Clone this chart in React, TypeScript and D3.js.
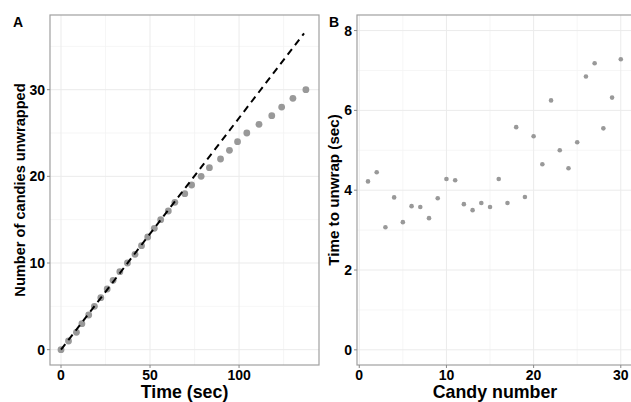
import React from "react";
import * as d3 from "d3";

// Panel B: time to unwrap each candy (sec)
const candyNumber = [1,2,3,4,5,6,7,8,9,10,11,12,13,14,15,16,17,18,19,20,21,22,23,24,25,26,27,28,29,30];
const unwrapTime = [4.22,4.45,3.07,3.82,3.2,3.6,3.58,3.3,3.8,4.28,4.25,3.65,3.5,3.68,3.58,4.28,3.68,5.58,3.83,5.35,4.65,6.25,5.0,4.55,5.2,6.85,7.18,5.55,6.32,7.28];

// Panel A: cumulative time (sec) vs number of candies unwrapped
const candiesUnwrapped = [0,1,2,3,4,5,6,7,8,9,10,11,12,13,14,15,16,17,18,19,20,21,22,23,24,25,26,27,28,29,30];
const cumulativeTime = [0,4.22,8.67,11.74,15.56,18.76,22.36,25.94,29.24,33.04,37.32,41.57,45.22,48.72,52.40,55.98,60.26,63.94,69.52,73.35,78.70,83.35,89.60,94.60,99.15,104.35,111.20,118.38,123.93,130.25,137.53];

// Dashed reference line (constant initial rate)
const refLineTime = [0, 136.5];
const refLineCandies = [0, 36.5];

const aXTicks = [0, 50, 100];
const aXMinor = [25, 75, 125];
const aYTicks = [0, 10, 20, 30];
const aYMinor = [5, 15, 25, 35];
const bXTicks = [0, 10, 20, 30];
const bXMinor = [5, 15, 25];
const bYTicks = [0, 2, 4, 6, 8];
const bYMinor = [1, 3, 5, 7];

const aXDomain = [-6.18, 144.9];
const aYDomain = [-1.77, 38.62];
const bXDomain = [-0.26, 31.4];
const bYDomain = [-0.38, 8.39];

const FONT = "'Liberation Sans', Arial, Helvetica, sans-serif";
const GRID_MAJOR = "#ebebeb";
const GRID_MINOR = "#f4f4f4";
const BORDER = "#a0a0a0";
const POINT = "#999999";

type PanelProps = {
  left: number; right: number; top: number; bottom: number;
  xDomain: number[]; yDomain: number[];
  xTicks: number[]; xMinor: number[]; yTicks: number[]; yMinor: number[];
  xTitle: string; yTitle: string; label: string; labelX: number; yTitleX: number;
  yTitleSize: number;
  children: (x: d3.ScaleLinear<number, number>, y: d3.ScaleLinear<number, number>) => React.ReactNode;
};

function Panel(p: PanelProps) {
  const x = d3.scaleLinear().domain(p.xDomain).range([p.left, p.right]);
  const y = d3.scaleLinear().domain(p.yDomain).range([p.bottom, p.top]);
  const clipId = "clip-" + p.label;
  return (
    <g>
      <defs>
        <clipPath id={clipId}>
          <rect x={p.left} y={p.top} width={p.right - p.left} height={p.bottom - p.top} />
        </clipPath>
      </defs>
      <rect x={p.left} y={p.top} width={p.right - p.left} height={p.bottom - p.top} fill="white" />
      {p.xMinor.map((v) => (
        <line key={"xm" + v} x1={x(v)} x2={x(v)} y1={p.top} y2={p.bottom} stroke={GRID_MINOR} strokeWidth={0.8} />
      ))}
      {p.yMinor.map((v) => (
        <line key={"ym" + v} x1={p.left} x2={p.right} y1={y(v)} y2={y(v)} stroke={GRID_MINOR} strokeWidth={0.8} />
      ))}
      {p.xTicks.map((v) => (
        <line key={"xg" + v} x1={x(v)} x2={x(v)} y1={p.top} y2={p.bottom} stroke={GRID_MAJOR} strokeWidth={1} />
      ))}
      {p.yTicks.map((v) => (
        <line key={"yg" + v} x1={p.left} x2={p.right} y1={y(v)} y2={y(v)} stroke={GRID_MAJOR} strokeWidth={1} />
      ))}
      <g clipPath={`url(#${clipId})`}>{p.children(x, y)}</g>
      <rect x={p.left} y={p.top} width={p.right - p.left} height={p.bottom - p.top} fill="none" stroke={BORDER} strokeWidth={1.2} />
      {p.xTicks.map((v) => (
        <g key={"xt" + v}>
          <line x1={x(v)} x2={x(v)} y1={p.bottom} y2={p.bottom + 3} stroke="#888" strokeWidth={1} />
          <text x={x(v)} y={p.bottom + 14.5} textAnchor="middle" fontFamily={FONT} fontWeight="bold" fontSize={14} fill="#000">{v}</text>
        </g>
      ))}
      {p.yTicks.map((v) => (
        <g key={"yt" + v}>
          <line x1={p.left - 3} x2={p.left} y1={y(v)} y2={y(v)} stroke="#888" strokeWidth={1} />
          <text x={p.left - 5} y={y(v)} dy="0.36em" textAnchor="end" fontFamily={FONT} fontWeight="bold" fontSize={14} fill="#000">{v}</text>
        </g>
      ))}
      <text x={(p.left + p.right) / 2} y={398} textAnchor="middle" fontFamily={FONT} fontWeight="bold" fontSize={17.8} fill="#000">{p.xTitle}</text>
      <text transform={`translate(${p.yTitleX},${(p.top + p.bottom) / 2}) rotate(-90)`} textAnchor="middle" fontFamily={FONT} fontWeight="bold" fontSize={p.yTitleSize} fill="#000">{p.yTitle}</text>
      <text x={p.labelX} y={27} fontFamily={FONT} fontWeight="bold" fontSize={14} fill="#000">{p.label}</text>
    </g>
  );
}

export default function App() {
  const line = d3.line<number>();
  return (
    <svg width={631} height={402} style={{ position: "absolute", left: 0, top: 0, background: "white" }}>
      <rect width={631} height={402} fill="white" />
      <Panel left={50} right={319} top={15} bottom={365} xDomain={aXDomain} yDomain={aYDomain}
        xTicks={aXTicks} xMinor={aXMinor} yTicks={aYTicks} yMinor={aYMinor}
        xTitle="Time (sec)" yTitle="Number of candies unwrapped" label="A" labelX={13} yTitleX={25} yTitleSize={14.6}>
        {(x, y) => (
          <g>
            {cumulativeTime.map((t, i) => (
              <circle key={i} cx={x(t)} cy={y(candiesUnwrapped[i])} r={3.4} fill={POINT} />
            ))}
            <path d={line(refLineTime.map((t, i) => [x(t), y(refLineCandies[i])] as [number, number])) || ""}
              fill="none" stroke="#000" strokeWidth={2} strokeDasharray="7,5" />
          </g>
        )}
      </Panel>
      <Panel left={357} right={633} top={15} bottom={365} xDomain={bXDomain} yDomain={bYDomain}
        xTicks={bXTicks} xMinor={bXMinor} yTicks={bYTicks} yMinor={bYMinor}
        xTitle="Candy number" yTitle="Time to unwrap (sec)" label="B" labelX={329} yTitleX={339} yTitleSize={15.2}>
        {(x, y) => (
          <g>
            {unwrapTime.map((v, i) => (
              <circle key={i} cx={x(candyNumber[i])} cy={y(v)} r={2.3} fill={POINT} />
            ))}
          </g>
        )}
      </Panel>
    </svg>
  );
}
